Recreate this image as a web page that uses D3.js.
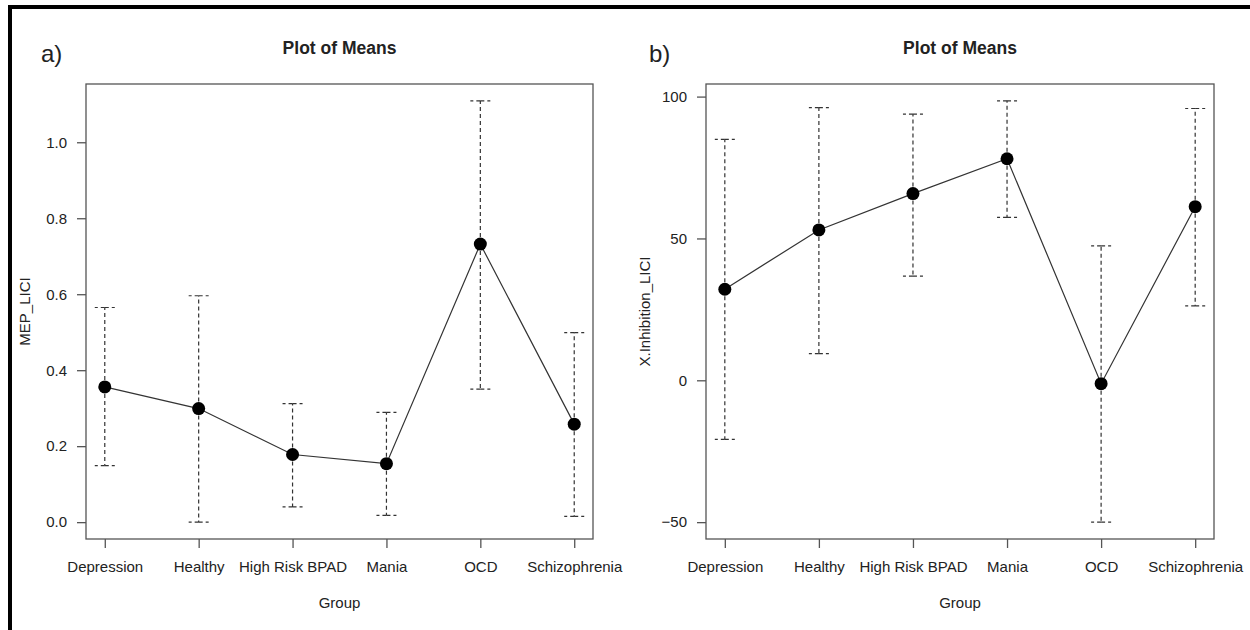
<!DOCTYPE html>
<html>
<head>
<meta charset="utf-8">
<script src="https://cdn.jsdelivr.net/npm/d3@7"></script>
<style>
  html, body { margin: 0; padding: 0; background: #fff; }
  svg { display: block; }
  text { font-family: "Liberation Sans", Arial, sans-serif; fill: #222; }
</style>
</head>
<body>
<svg id="chart" width="1250" height="630"></svg>
<script>
// ---- Data ----
const groups = ["Depression", "Healthy", "High Risk BPAD", "Mania", "OCD", "Schizophrenia"];

// Panel a) MEP_LICI
const mepMean  = [0.356, 0.299, 0.178, 0.154, 0.732, 0.258];
const mepUpper = [0.565, 0.596, 0.312, 0.289, 1.109, 0.499];
const mepLower = [0.149, 0.000, 0.040, 0.018, 0.350, 0.015];
const mepTicks = [0.0, 0.2, 0.4, 0.6, 0.8, 1.0];

// Panel b) X.Inhibition_LICI
const inhMean  = [32.1, 53.0, 65.8, 78.1, -1.2, 61.2];
const inhUpper = [84.9, 96.1, 93.8, 98.5, 47.4, 95.8];
const inhLower = [-20.8, 9.4, 36.7, 57.4, -50.0, 26.2];
const inhTicks = [-50, 0, 50, 100];

const svg = d3.select("#chart");

// Outer frame (top and left edges visible)
svg.append("line").attr("x1", 10).attr("x2", 1250).attr("y1", 7).attr("y2", 7)
  .attr("stroke", "#000").attr("stroke-width", 4);
svg.append("line").attr("x1", 10).attr("x2", 10).attr("y1", 5).attr("y2", 630)
  .attr("stroke", "#000").attr("stroke-width", 4);

function panel(opts) {
  const { left, right, top, bottom, mean, upper, lower, ticks, fmt, ylab, letter, letterX, ylabX } = opts;
  const g = svg.append("g");

  const x = d3.scalePoint().domain(groups).range([left, right]).padding(0.2);
  const lo = d3.min(lower), hi = d3.max(upper);
  const ext = (hi - lo) * 0.04;
  const y = d3.scaleLinear().domain([lo - ext, hi + ext]).range([bottom, top]);

  // Box
  g.append("rect").attr("x", left).attr("y", top)
    .attr("width", right - left).attr("height", bottom - top)
    .attr("fill", "none").attr("stroke", "#555").attr("stroke-width", 1.3);

  // Y axis
  const ya = g.append("g").attr("transform", `translate(${left},0)`)
    .call(d3.axisLeft(y).tickValues(ticks).tickFormat(fmt).tickSize(9).tickPadding(10));
  ya.select(".domain").remove();
  ya.selectAll(".tick line").attr("stroke", "#555").attr("stroke-width", 1.3);
  ya.selectAll(".tick text").attr("font-size", 15).attr("fill", "#222")
    .style("font-family", '"Liberation Sans", Arial, sans-serif');

  // X axis
  const xa = g.append("g").attr("transform", `translate(0,${bottom})`)
    .call(d3.axisBottom(x).tickSize(9).tickPadding(0));
  xa.select(".domain").remove();
  xa.selectAll(".tick line").attr("stroke", "#555").attr("stroke-width", 1.3);
  xa.selectAll(".tick text").attr("font-size", 15).attr("fill", "#222")
    .attr("y", 33).attr("dy", 0)
    .style("font-family", '"Liberation Sans", Arial, sans-serif');

  // Error bars (arrows from mean to each end, with 90° heads)
  const cap = 10;
  const dash = "4,3";
  groups.forEach((grp, i) => {
    const cx = x(grp);
    [upper[i], lower[i]].forEach(v => {
      g.append("line").attr("x1", cx).attr("x2", cx)
        .attr("y1", y(mean[i])).attr("y2", y(v))
        .attr("stroke", "#333").attr("stroke-width", 1.2).attr("stroke-dasharray", dash);
      [-1, 1].forEach(s => {
        g.append("line").attr("x1", cx).attr("x2", cx + s * cap)
          .attr("y1", y(v)).attr("y2", y(v))
          .attr("stroke", "#333").attr("stroke-width", 1.2).attr("stroke-dasharray", dash);
      });
    });
  });

  // Mean line
  const line = d3.line().x((d, i) => x(groups[i])).y(d => y(d));
  g.append("path").datum(mean).attr("d", line)
    .attr("fill", "none").attr("stroke", "#333").attr("stroke-width", 1.2);

  // Points
  g.selectAll("circle.pt").data(mean).join("circle").attr("class", "pt")
    .attr("cx", (d, i) => x(groups[i])).attr("cy", d => y(d)).attr("r", 6.5)
    .attr("fill", "#000");

  // Title
  g.append("text").attr("x", (left + right) / 2).attr("y", 54)
    .attr("text-anchor", "middle").attr("font-size", 17.5).attr("font-weight", "bold")
    .text("Plot of Means");

  // Panel letter
  g.append("text").attr("x", letterX).attr("y", 62).attr("font-size", 24).text(letter);

  // X label
  g.append("text").attr("x", (left + right) / 2).attr("y", 608)
    .attr("text-anchor", "middle").attr("font-size", 15).text("Group");

  // Y label
  g.append("text").attr("transform", `translate(${ylabX},${(top + bottom) / 2}) rotate(-90)`)
    .attr("text-anchor", "middle").attr("font-size", 15).text(ylab);
}

panel({
  left: 86, right: 593, top: 84, bottom: 539,
  mean: mepMean, upper: mepUpper, lower: mepLower, ticks: mepTicks,
  fmt: d3.format(".1f"), ylab: "MEP_LICI", letter: "a)", letterX: 41, ylabX: 29.5
});

panel({
  left: 706, right: 1214, top: 84, bottom: 539,
  mean: inhMean, upper: inhUpper, lower: inhLower, ticks: inhTicks,
  fmt: d3.format("d"), ylab: "X.Inhibition_LICI", letter: "b)", letterX: 649, ylabX: 650
});
</script>
</body>
</html>
